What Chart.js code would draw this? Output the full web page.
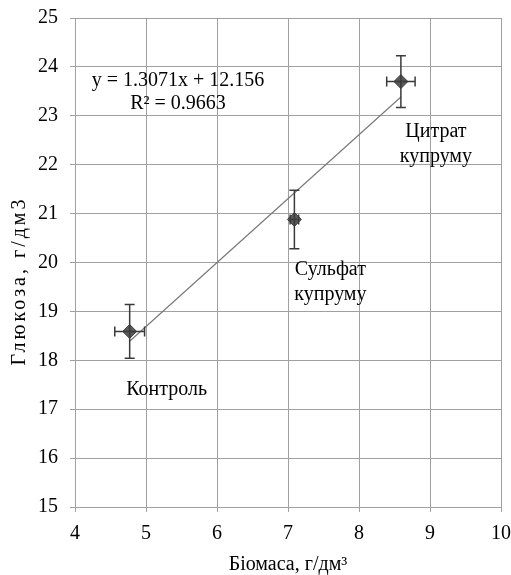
<!DOCTYPE html>
<html>
<head>
<meta charset="utf-8">
<script src="https://cdn.jsdelivr.net/npm/chart.js@4"></script>
<style>
  html, body { margin: 0; padding: 0; background: #fff; }
  #wrap { width: 511px; height: 575px; }
</style>
</head>
<body>
<div id="wrap"><canvas id="chart" width="511" height="575"></canvas></div>
<script>
// Data
const pointNames = [['Контроль'], ['Сульфат', 'купруму'], ['Цитрат', 'купруму']];
const biomass = [4.77, 7.09, 8.59];        // x, г/дм³
const glucose = [18.59, 20.88, 23.70];     // y, г/дм3
const biomassErr = [0.21, 0.06, 0.20];
const glucoseErr = [0.55, 0.60, 0.53];
const trendSlope = 1.3071;
const trendIntercept = 12.156;
const trendText = ['y = 1.3071x + 12.156', 'R² = 0.9663'];
const yTitle = 'Глюкоза, г/дм3';
const xTitle = 'Біомаса, г/дм³';

const FONT = '"Liberation Serif", "Times New Roman", serif';
const GRID = '#a0a0a0';

const points = biomass.map((x, i) => ({ x: x, y: glucose[i] }));
const xLo = Math.min(...biomass);
const xHi = Math.max(...biomass);
const trendPoints = [
  { x: xLo, y: trendSlope * xLo + trendIntercept },
  { x: xHi, y: trendSlope * xHi + trendIntercept }
];

// error bars drawn from the scales
const errorBars = {
  id: 'errorBars',
  afterDatasetsDraw(chart) {
    const { ctx, scales: { x, y } } = chart;
    const cap = 5;
    ctx.save();
    ctx.strokeStyle = '#3a3a3a';
    ctx.lineWidth = 1.5;
    points.forEach((p, i) => {
      const px = x.getPixelForValue(p.x);
      const py = y.getPixelForValue(p.y);
      const yTop = y.getPixelForValue(p.y + glucoseErr[i]);
      const yBot = y.getPixelForValue(p.y - glucoseErr[i]);
      const xL = x.getPixelForValue(p.x - biomassErr[i]);
      const xR = x.getPixelForValue(p.x + biomassErr[i]);
      ctx.beginPath();
      ctx.moveTo(px, yTop); ctx.lineTo(px, yBot);
      ctx.moveTo(px - cap, yTop); ctx.lineTo(px + cap, yTop);
      ctx.moveTo(px - cap, yBot); ctx.lineTo(px + cap, yBot);
      ctx.moveTo(xL, py); ctx.lineTo(xR, py);
      ctx.moveTo(xL, py - cap); ctx.lineTo(xL, py + cap);
      ctx.moveTo(xR, py - cap); ctx.lineTo(xR, py + cap);
      ctx.stroke();
    });
    ctx.restore();
  }
};

// point names, trendline equation and the spaced-out y title
const textLabels = {
  id: 'textLabels',
  afterDraw(chart) {
    const { ctx, scales: { x, y } } = chart;
    ctx.save();
    ctx.fillStyle = '#000';
    ctx.font = '20px ' + FONT;
    ctx.textAlign = 'center';
    ctx.textBaseline = 'middle';
    const offsets = [[37, 58], [36, 50], [35, 50]];
    points.forEach((p, i) => {
      const px = x.getPixelForValue(p.x) + offsets[i][0];
      const py = y.getPixelForValue(p.y) + offsets[i][1];
      pointNames[i].forEach((line, j) => {
        ctx.fillText(line, px, py + j * 25);
      });
    });
    const ex = x.getPixelForValue(5.45);
    ctx.fillText(trendText[0], ex, y.getPixelForValue(23.72));
    ctx.fillText(trendText[1], ex, y.getPixelForValue(23.25));

    ctx.translate(20, 281);
    ctx.rotate(-Math.PI / 2);
    ctx.letterSpacing = '3px';
    ctx.fillText(yTitle, 0, 0);
    ctx.restore();
  }
};

new Chart(document.getElementById('chart'), {
  type: 'scatter',
  data: {
    datasets: [
      {
        type: 'line',
        data: trendPoints,
        borderColor: '#7a7a7a',
        borderWidth: 1.2,
        pointRadius: 0,
        fill: false,
        order: 2
      },
      {
        data: points,
        pointStyle: 'rectRot',
        pointRadius: 7,
        backgroundColor: '#595959',
        borderColor: '#3f3f3f',
        borderWidth: 1,
        order: 1
      }
    ]
  },
  options: {
    responsive: false,
    animation: false,
    layout: { padding: { left: 0, right: 10, top: 18, bottom: 0 } },
    plugins: {
      legend: { display: false },
      tooltip: { enabled: false }
    },
    scales: {
      x: {
        type: 'linear',
        min: 4,
        max: 10,
        ticks: { stepSize: 1, color: '#000', font: { family: FONT, size: 20 }, padding: 10 },
        grid: { color: GRID, tickLength: 5 },
        border: { color: GRID },
        title: {
          display: true,
          text: xTitle,
          color: '#000',
          font: { family: FONT, size: 20, lineHeight: 1 },
          padding: { top: 0, bottom: 0 }
        },
        afterFit(scale) {
          scale.height = 68;
          scale.paddingLeft = 0;
          scale.paddingRight = 0;
        }
      },
      y: {
        type: 'linear',
        min: 15,
        max: 25,
        ticks: { stepSize: 1, color: '#000', font: { family: FONT, size: 20 }, padding: 12 },
        grid: { color: GRID, tickLength: 5 },
        border: { color: GRID },
        afterFit(scale) {
          scale.width = 75;
          scale.paddingTop = 0;
          scale.paddingBottom = 0;
        }
      }
    }
  },
  plugins: [errorBars, textLabels]
});
</script>
</body>
</html>
